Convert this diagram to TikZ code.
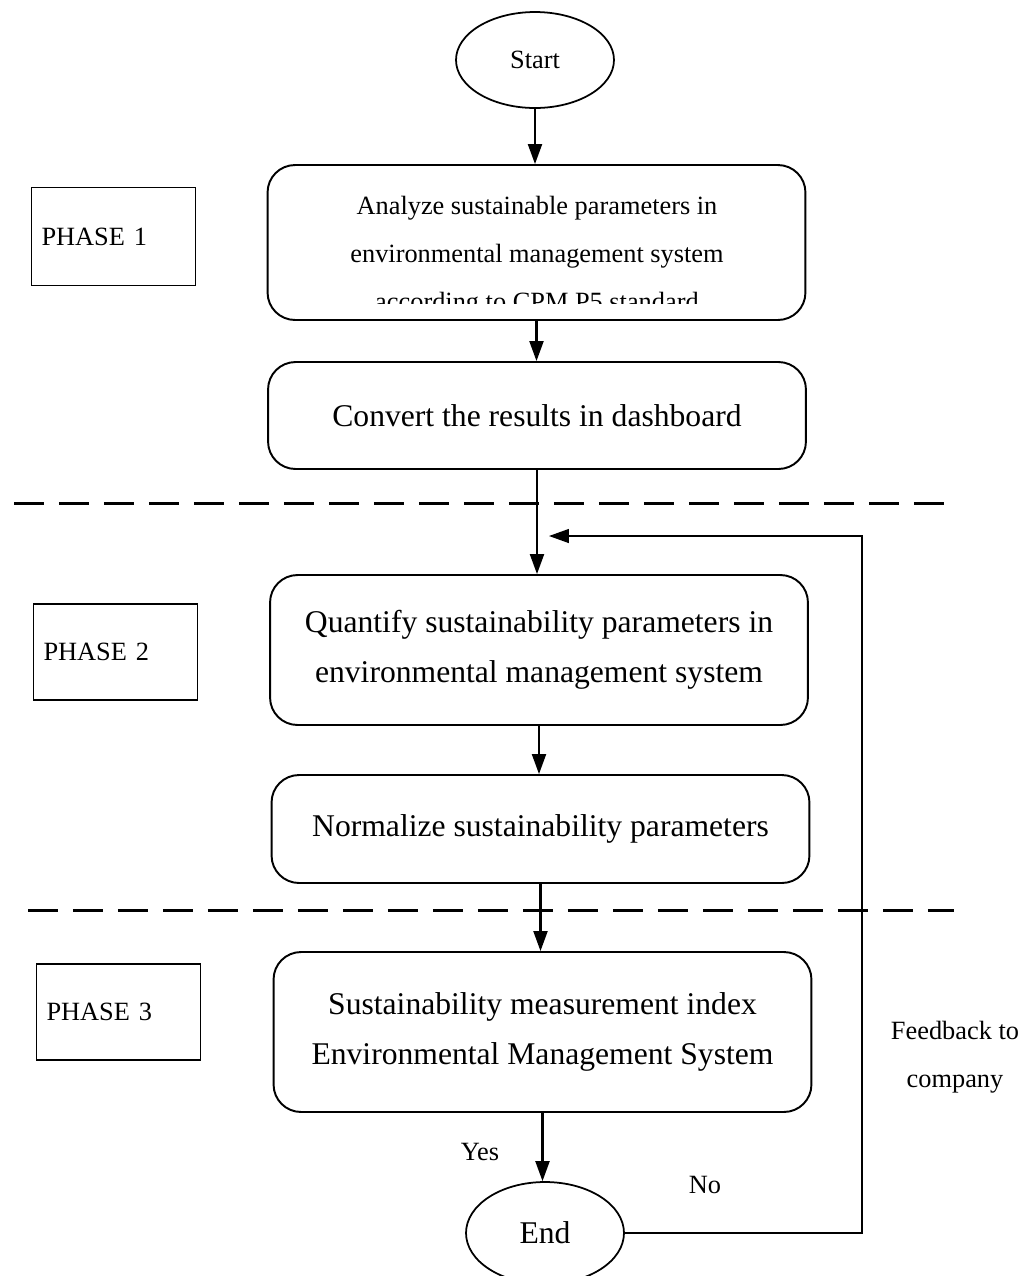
\documentclass[tikz,border=0pt]{standalone}
\usepackage{fontspec}
\setmainfont{Liberation Serif}
\usetikzlibrary{arrows.meta,shapes.geometric}
\begin{document}
\begin{tikzpicture}[x=0.02cm,y=-0.02cm,
  flowbox/.style={draw,line width=1.1pt,rounded corners=0.55cm,minimum width=10.76cm,inner sep=0pt,align=center,font=\fontsize{18}{28.4}\selectfont},
  phasebox/.style={draw,line width=0.8pt,minimum width=3.28cm,inner xsep=0.2cm,text width=2.88cm,align=left,font=\fontsize{15}{18}\selectfont},
  term/.style={draw,ellipse,line width=1pt,minimum width=3.16cm,inner sep=0pt},
  flowarrow/.style={line width=1.2pt,-{Triangle[length=0.4cm,width=0.28cm]}},
  fbarrow/.style={line width=0.8pt,-{Triangle[length=0.4cm,width=0.28cm]}},
  phaseline/.style={line width=1.7pt,dash pattern=on 0.6cm off 0.3cm},
  lbl/.style={font=\fontsize{15}{27}\selectfont,align=center}
]
\useasboundingbox (0,0) rectangle (1029,1276);
\clip (0,0) rectangle (1029,1276);

% terminals
\node[term,minimum height=1.92cm,font=\fontsize{15}{18}\selectfont] (start) at (535,60) {Start};
\node[term,minimum height=2.04cm,font=\fontsize{18}{20}\selectfont] (end) at (545,1233) {End};

% process boxes
\node[flowbox,minimum height=3.1cm] (b1) at (536.5,242.5) {};
\begin{scope}
  \clip (280,170) rectangle (795,303);
  \node[font=\fontsize{15}{27.2}\selectfont,align=center] (b1text) at (537,256)
    {Analyze sustainable parameters in\\environmental management system\\according to CPM P5 standard};
\end{scope}
\node[flowbox,minimum height=2.14cm] (b2) at (537,415.5) {Convert the results in dashboard};
\node[flowbox,minimum height=3.0cm] (b3) at (539,650) {Quantify sustainability parameters in\\environmental management system};
\node[flowbox,minimum height=2.16cm] (b4) at (540.5,829) {Normalize sustainability parameters};
\node[flowbox,minimum height=3.2cm] (b5) at (542.5,1032) {Sustainability measurement index\\Environmental Management System};

% phase boxes
\node[phasebox,minimum height=1.96cm] (p1) at (113.5,236.5) {PHASE 1};
\node[phasebox,minimum height=1.92cm] (p2) at (115.5,652) {PHASE 2};
\node[phasebox,minimum height=1.92cm] (p3) at (118.5,1012) {PHASE 3};

% phase separators
\coordinate (d1a) at (14,503);
\coordinate (d1b) at (948,503);
\coordinate (d2a) at (28,910);
\coordinate (d2b) at (954,910);
\draw[phaseline] (d1a) -- (d1b);
\draw[phaseline] (d2a) -- (d2b);

% flow arrows
\draw[flowarrow] (start.south) -- (start.south |- b1.north);
\draw[flowarrow] (b1.south) -- (b1.south |- b2.north);
\draw[flowarrow] (b2.south) -- (b2.south |- b3.north);
\draw[flowarrow] (b3.south) -- (b3.south |- b4.north);
\draw[flowarrow] (b4.south) -- (b4.south |- b5.north);
\draw[flowarrow] (b5.south) -- (b5.south |- end.north);

% feedback loop
\coordinate (fbc) at (862,1233);
\coordinate (fbt) at (862,536);
\coordinate (fbtip) at (549,536);
\draw[fbarrow] (end.east) -- (fbc) -- (fbt) -- (fbtip);

% labels
\node[lbl] (yes) at (480,1152) {Yes};
\node[lbl] (no) at (705,1185) {No};
\node[lbl] (fb) at (955,1057) {Feedback to\\company};
\end{tikzpicture}
\end{document}
